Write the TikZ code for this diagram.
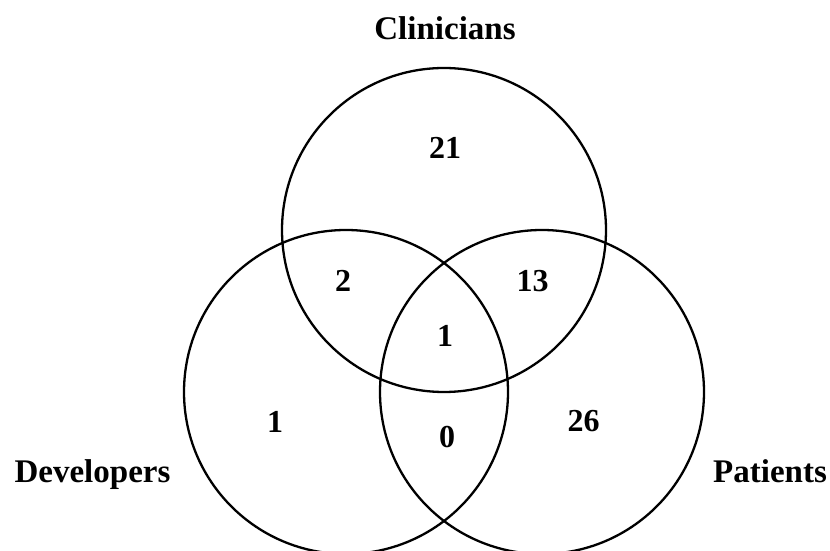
\documentclass[tikz,border=0pt]{standalone}
\usepackage{fontspec}
\setmainfont{Liberation Serif}
\begin{document}
\begin{tikzpicture}[x=1pt,y=1pt,
  setcircle/.style={circle,draw=black,line width=2.3pt,minimum size=324pt,inner sep=0pt},
  setlabel/.style={inner sep=0pt,anchor=base,font=\fontsize{33}{36}\selectfont\bfseries},
  count/.style={inner sep=0pt,anchor=base,font=\fontsize{32}{36}\selectfont\bfseries}]
\useasboundingbox (0,0) rectangle (830,551);
\node[setcircle] (clin) at (444,321) {};
\node[setcircle] (dev) at (346,159) {};
\node[setcircle] (pat) at (542,159) {};
\node[setlabel] (lclin) at (445,511) {Clinicians};
\node[setlabel] (ldev) at (92.5,68) {Developers};
\node[setlabel,anchor=base west] (lpat) at (713,68) {Patients};
\node[count] (n21) at (445,392) {21};
\node[count] (n2) at (343,259) {2};
\node[count] (n13) at (532.5,259) {13};
\node[count] (n1c) at (445,204) {1};
\node[count] (n1) at (275,118) {1};
\node[count] (n0) at (447,103) {0};
\node[count] (n26) at (583.5,119) {26};
\end{tikzpicture}
\end{document}
